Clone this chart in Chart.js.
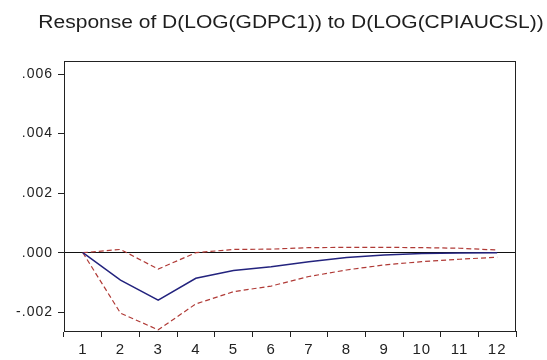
<!DOCTYPE html>
<html>
<head>
<meta charset="utf-8">
<script src="https://cdn.jsdelivr.net/npm/chart.js@4"></script>
<style>
  html, body { margin: 0; padding: 0; background: #fff; }
  #wrap { width: 547px; height: 360px; }
</style>
</head>
<body>
<div id="wrap"><canvas id="irfChart" width="547" height="360"></canvas></div>
<script>
// impulse response, periods 1..12
const periods = ['1', '2', '3', '4', '5', '6', '7', '8', '9', '10', '11', '12'];
const response = [0, -0.00092, -0.00159, -0.00086, -0.00060, -0.00047, -0.00030, -0.00016, -0.00008, -0.00003, -0.00001, 0];
const upperBand = [0, 0.00011, -0.00055, 0.0000, 0.00011, 0.00012, 0.00017, 0.00018, 0.00018, 0.00017, 0.00015, 0.00009];
const lowerBand = [0, -0.00203, -0.00259, -0.00172, -0.00131, -0.00112, -0.00080, -0.00058, -0.00041, -0.00030, -0.00022, -0.00015];
const yTicks = [-0.002, 0, 0.002, 0.004, 0.006];

const chartTitle = 'Response of D(LOG(GDPC1)) to D(LOG(CPIAUCSL))';
const fontFamily = 'Liberation Sans, Arial';

// slightly wider tick text, EViews style
const spacing = {
    id: 'spacing',
    beforeDraw(chart) {
        chart.ctx.letterSpacing = '1px';
    }
};

// title centred over the plot box (stretched a bit), plus the box itself
const frame = {
    id: 'frame',
    afterDraw(chart) {
        const { ctx, chartArea: a } = chart;
        ctx.save();
        ctx.strokeStyle = '#222';
        ctx.lineWidth = 1;
        ctx.strokeRect(a.left + 0.5, a.top + 0.5, a.right - a.left - 1, a.bottom - a.top);

        ctx.fillStyle = '#1e1e1e';
        ctx.font = '17.5px ' + fontFamily;
        ctx.letterSpacing = '0px';
        ctx.textAlign = 'center';
        ctx.textBaseline = 'alphabetic';
        ctx.translate((a.left + a.right) / 2 + 1, 28);
        ctx.scale(1.2, 1);
        ctx.fillText(chartTitle, 0, 0);
        ctx.restore();
    }
};

const ctx = document.getElementById('irfChart');

new Chart(ctx, {
    type: 'line',
    data: {
        labels: periods,
        datasets: [
            {
                label: 'Response',
                data: response,
                borderColor: '#23237e',
                borderWidth: 1.5,
                pointRadius: 0,
                tension: 0
            },
            {
                label: '+2 S.E.',
                data: upperBand,
                borderColor: '#b03a36',
                borderWidth: 1.2,
                borderDash: [5, 3],
                pointRadius: 0,
                tension: 0
            },
            {
                label: '-2 S.E.',
                data: lowerBand,
                borderColor: '#b03a36',
                borderWidth: 1.2,
                borderDash: [5, 3],
                pointRadius: 0,
                tension: 0
            }
        ]
    },
    options: {
        responsive: false,
        animation: false,
        layout: { padding: { left: 0, right: 31, top: 61, bottom: 0 } },
        plugins: {
            legend: { display: false },
            tooltip: { enabled: false },
            title: { display: false }
        },
        scales: {
            x: {
                offset: true,
                grid: {
                    offset: true,
                    drawOnChartArea: false,
                    tickLength: 6,
                    tickColor: '#222'
                },
                border: { color: '#222' },
                ticks: {
                    color: '#222',
                    padding: 4,
                    maxRotation: 0,
                    font: { family: fontFamily, size: 15 }
                },
                afterFit(scale) { scale.height = 29; }
            },
            y: {
                min: -0.00263,
                max: 0.00644,
                afterBuildTicks(scale) {
                    scale.ticks = yTicks.map(v => ({ value: v }));
                },
                grid: {
                    color: c => (c.tick && c.tick.value === 0) ? '#111' : 'transparent',
                    tickColor: '#222',
                    tickLength: 6
                },
                border: { color: '#222' },
                ticks: {
                    color: '#222',
                    padding: 5,
                    font: { family: fontFamily, size: 14 },
                    callback: v => v.toFixed(3).replace('0.', '.')
                },
                afterFit(scale) { scale.width = 64; }
            }
        }
    },
    plugins: [spacing, frame]
});
</script>
</body>
</html>
